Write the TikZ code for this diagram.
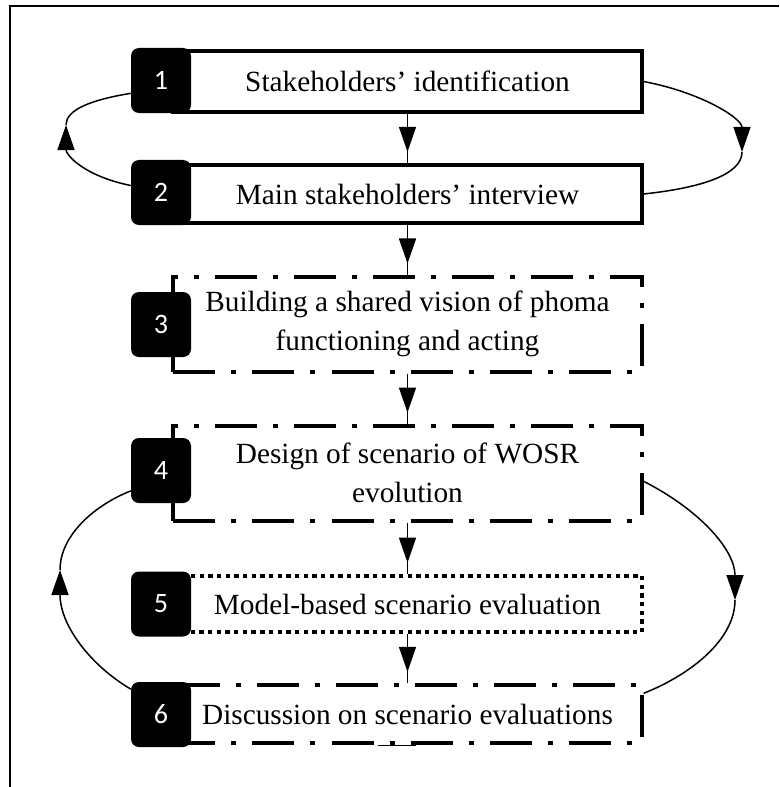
\documentclass[tikz,border=0pt]{standalone}
\usepackage{fontspec}
\setmainfont{Liberation Serif}
\newfontfamily\numfont{Carlito}
\usetikzlibrary{arrows.meta}

\begin{document}
\begin{tikzpicture}[x=0.03cm,y=-0.03cm,
  box/.style={draw,fill=white,line width=0.12cm,minimum width=14.04cm,inner sep=0pt,
              align=center,font=\fontsize{25}{33}\selectfont},
  dashdot/.style={dash pattern=on 1.26cm off 0.48cm on 0.15cm off 0.48cm},
  dotline/.style={dash pattern=on 0.13cm off 0.13cm},
  badge/.style={fill=black,rounded corners=0.24cm,minimum width=1.8cm,minimum height=1.95cm,
                inner sep=0pt,text=white,font=\numfont\fontsize{24}{28}\selectfont},
  line/.style={line width=0.045cm},
  tip/.style={line,-{Triangle[length=0.75cm,width=0.51cm]}}]
\useasboundingbox (0,0) rectangle (779,787);
\draw[line width=0.06cm] (10,787) -- (10,6) -- (779,6);

\node[box,minimum height=1.8cm] (s1) at (407.5,81.5) {Stakeholders’ identification};
\node[box,minimum height=1.75cm] (s2) at (407.5,194) {Main stakeholders’ interview};
\node[box,dashdot,minimum height=2.85cm] (s3) at (407.5,324) {Building a shared vision of phoma\\functioning and acting};
\node[box,dashdot,minimum height=2.85cm] (s4) at (407.5,473) {Design of scenario of WOSR\\evolution};
\node[box,dotline,minimum height=1.7cm] (s5) at (407.5,604) {Model-based scenario evaluation};
\node[box,dashdot,minimum height=1.75cm] (s6) at (407.5,714) {Discussion on scenario evaluations};
\draw[line width=0.03cm] ([xshift=-0.9cm]s6.south) -- ([xshift=0.25cm]s6.south);

\foreach \n/\y in {1/80.5, 2/192.5, 3/324.5, 4/470.5, 5/604, 6/714.5}
  \node[badge] (n\n) at (161,\y) {\n};

\foreach \a/\b in {s1/s2, s2/s3, s3/s4, s4/s5, s5/s6} {
  \draw[line] (\a) -- (\b);
  \draw[tip,shorten >=0.33cm] (\a) -- (\b);
}

% feedback loops
\coordinate (tl) at (66,125);
\coordinate (tr) at (742,152);
\coordinate (br) at (735,600);
\coordinate (bl) at (60,570);
\draw[tip] (n2.167) .. controls (84,176) and (66,155) .. (tl);
\draw[line] (tl) .. controls (66,110) and (90,100) .. (n1.203);
\draw[tip] (s1.east) .. controls (700,92) and (742,118) .. (tr);
\draw[line] (tr) .. controls (742,175) and (700,188) .. (s2.east);
\draw[tip] (s4.-2.5) .. controls (700,510) and (735,550) .. (br);
\draw[line] (br) .. controls (735,640) and (690,675) .. (s6.5);
\draw[tip] (n6.140) .. controls (90,665) and (60,625) .. (bl);
\draw[line] (bl) .. controls (60,535) and (95,505) .. (n4.214);
\end{tikzpicture}
\end{document}
